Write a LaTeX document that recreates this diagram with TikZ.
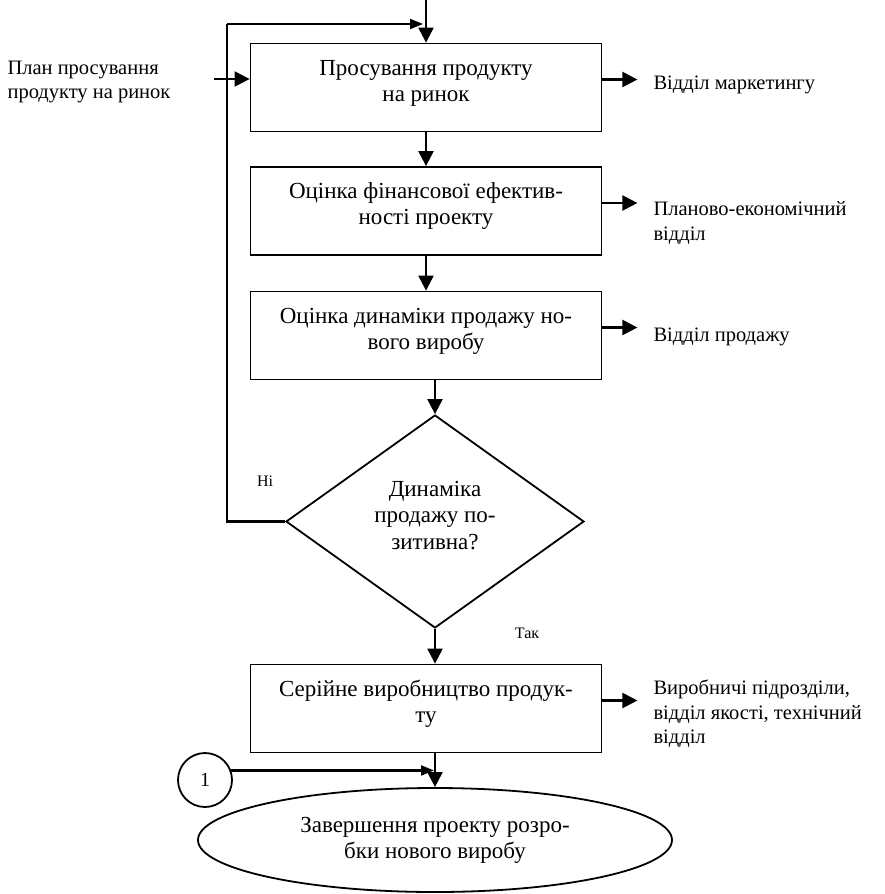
\documentclass[tikz,border=0pt]{standalone}
\usepackage{fontspec}
\setmainfont{Liberation Serif}
\usetikzlibrary{arrows.meta, positioning, shapes.geometric}
\definecolor{ink}{HTML}{000000}

\begin{document}
\begin{tikzpicture}[x=1pt, y=-1pt,
  every node/.style={color=ink},
  pbox/.style={draw=ink, line width=1.8pt, minimum width=351pt, minimum height=88pt,
    text depth=14pt, align=center, font=\fontsize{23}{26}\selectfont},
  pdec/.style={diamond, draw=ink, line width=1.8pt, minimum width=298pt, minimum height=213pt,
    inner sep=0pt, text depth=13pt, align=center, font=\fontsize{23}{26.5}\selectfont},
  pend/.style={ellipse, draw=ink, line width=1.8pt, minimum width=474pt, minimum height=104pt,
    inner sep=0pt, align=center, font=\fontsize{23}{26}\selectfont},
  pcon/.style={circle, draw=ink, line width=1.8pt, minimum size=54pt, inner sep=0pt,
    font=\fontsize{20}{24}\selectfont},
  dept/.style={anchor=west, align=left, font=\fontsize{20.5}{24.5}\selectfont},
  ans/.style={font=\fontsize{16}{19}\selectfont},
  flow/.style={line width=2.2pt, -{Triangle[length=15pt, width=15pt]}},
  flowsm/.style={line width=2.2pt, -{Triangle[length=13pt, width=10pt]}}
]
\useasboundingbox (0,0) rectangle (885,894);

% process steps
\node[pbox] (p1) at (426,87.5) {Просування продукту\\на ринок};
\node[pbox] (p2) at (426,211)  {Оцінка фінансової ефектив-\\ності проекту};
\node[pbox] (p3) at (426,335.5) {Оцінка динаміки продажу но-\\вого виробу};
\node[pdec] (d1) at (435,521.5) {Динаміка\\продажу по-\\зитивна?};
\node[pbox] (p4) at (426,708.5) {Серійне виробництво продук-\\ту};
\node[pend] (e1) at (435,840) {Завершення проекту розро-\\бки нового виробу};
\node[pcon] (c1) at (205,780) {1};

% departments
\node[dept] (t1) at (650,85)  {Відділ маркетингу};
\node[dept] (t2) at (650,223) {Планово-економічний\\відділ};
\node[dept] (t3) at (650,337) {Відділ продажу};
\node[dept] (t4) at (650,714) {Виробничі підрозділи,\\відділ якості, технічний\\відділ};
\node[dept] (t0) at (4,82) {План просування\\продукту на ринок};

% answers
\node[ans] (no)  at (265,481) {Ні};
\node[ans] (yes) at (527,633) {Так};

% helper points
\coordinate (top) at (426,0);
\coordinate (fb) at (227,24);
\coordinate (in) at (214,79);

% connectors
\draw[flow] (top) -- (p1.north);
\draw[flow] (p1) -- (p2);
\draw[flow] (p2) -- (p3);
\draw[flow] (p3.south -| d1.north) -- (d1.north);
\draw[flow] (d1.south) -- (d1.south |- p4.north);
\draw[flow] (p4.south -| e1.north) -- (e1.north);
\draw[line width=2.2pt] (d1.west) -| (fb);
\draw[flowsm, shorten >=3pt] (fb) -- (fb -| p1.north);
\draw[flow] (in) -- (in -| p1.west);
\draw[flowsm, shorten >=1pt] (c1.20) -- (c1.20 -| e1.north);
\draw[flow] ([yshift=8pt]p1.east) -- ++(35,0);
\draw[flow] ([yshift=8pt]p2.east) -- ++(35,0);
\draw[flow] ([yshift=8pt]p3.east) -- ++(35,0);
\draw[flow] ([yshift=8pt]p4.east) -- ++(35,0);
\end{tikzpicture}
\end{document}
